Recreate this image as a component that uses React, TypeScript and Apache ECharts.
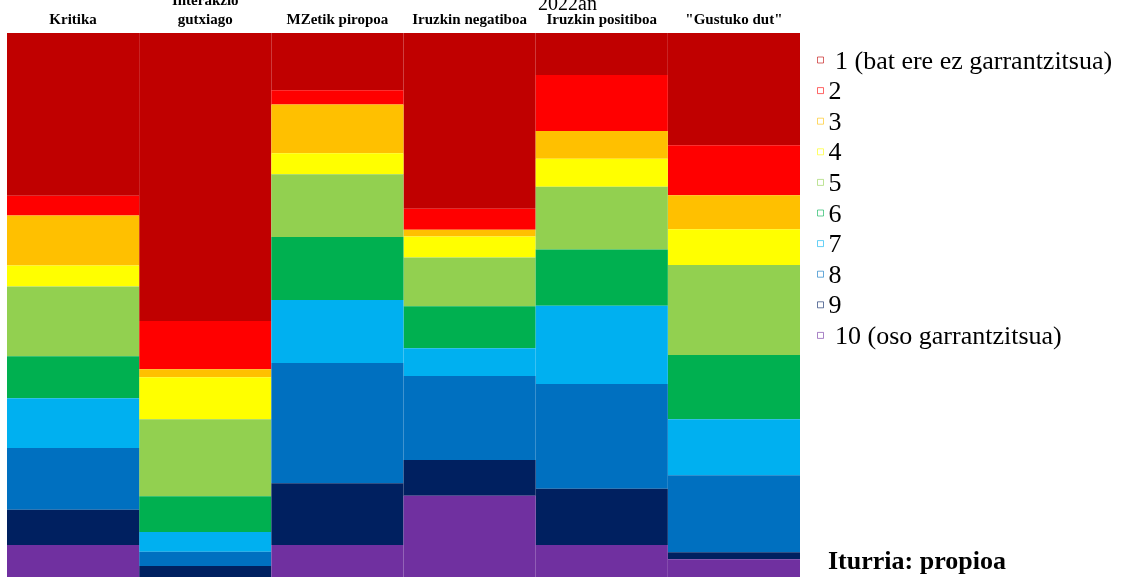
import React, { useEffect, useRef } from "react";
import * as echarts from "echarts";

const FONT = '"Liberation Serif", "Times New Roman", serif';

const categories = [
  "Kritika",
  "Interakzio\ngutxiago",
  "MZetik piropoa",
  "Iruzkin negatiboa",
  "Iruzkin positiboa",
  '"Gustuko dut"',
];

const levels = [
  "1 (bat ere ez garrantzitsua)",
  "2",
  "3",
  "4",
  "5",
  "6",
  "7",
  "8",
  "9",
  "10 (oso garrantzitsua)",
];

const levelColors = [
  "#C00000",
  "#FF0000",
  "#FFC000",
  "#FFFF00",
  "#92D050",
  "#00B050",
  "#00B0F0",
  "#0070C0",
  "#002060",
  "#7030A0",
];

// Share (%) of answers 1..10 per category
const kritika = [28.7, 3.5, 8.8, 3.7, 12.3, 7.4, 8.8, 10.9, 6.2, 9.7];
const interakzioGutxiago = [50.8, 8.5, 1.4, 7.4, 13.6, 6.3, 3.5, 2.5, 2.5, 3.5];
const mzetikPiropoa = [10.1, 2.5, 8.6, 3.7, 11.1, 11.1, 11.1, 21.2, 10.9, 9.7];
const iruzkinNegatiboa = [31.0, 3.7, 1.2, 3.7, 8.6, 7.4, 4.9, 14.8, 6.3, 18.4];
const iruzkinPositiboa = [7.4, 9.9, 4.9, 4.9, 11.1, 9.9, 13.8, 18.5, 9.9, 9.7];
const gustukoDut = [19.8, 8.8, 6.0, 6.3, 15.9, 11.3, 9.9, 13.6, 1.2, 7.2];

const titleText = "2022an";
const sourceText = "Iturria: propioa";

export default function App() {
  const ref = useRef<HTMLDivElement>(null);

  useEffect(() => {
    if (!ref.current) return;
    const chart = echarts.init(ref.current, null, { renderer: "svg" });
    const bars = [
      kritika,
      interakzioGutxiago,
      mzetikPiropoa,
      iruzkinNegatiboa,
      iruzkinPositiboa,
      gustukoDut,
    ];
    const series = levels.map((name, i) => ({
      name,
      type: "bar",
      stack: "total",
      barCategoryGap: "0%",
      data: bars.map((b) => b[i]),
      itemStyle: { color: levelColors[i] },
      emphasis: { disabled: true },
    }));

    chart.setOption({
      animation: false,
      title: {
        text: titleText,
        left: 538,
        top: -7,
        padding: 0,
        textStyle: {
          fontFamily: FONT,
          fontSize: 20,
          lineHeight: 20,
          fontWeight: "normal",
          color: "#000",
        },
      },
      grid: {
        left: 7,
        right: 324,
        top: 33,
        bottom: 10,
        containLabel: false,
        outerBoundsMode: "none",
      },
      xAxis: {
        type: "category",
        position: "top",
        data: categories,
        axisLine: { show: false },
        axisTick: { show: false },
        axisLabel: {
          interval: 0,
          margin: 5,
          fontFamily: FONT,
          fontWeight: "bold",
          fontSize: 15,
          lineHeight: 19,
          color: "#000",
        },
      },
      yAxis: { type: "value", min: 0, max: 100, inverse: true, show: false },
      legend: {
        orient: "vertical",
        left: 817,
        top: 47,
        padding: 0,
        itemWidth: 6,
        itemHeight: 6,
        itemGap: 4.6,
        icon: "rect",
        selectedMode: false,
        data: levels.map((name, i) => ({
          name,
          itemStyle: {
            color: "#ffffff",
            borderColor: levelColors[i],
            borderWidth: 1,
            opacity: 0.6,
          },
        })),
        formatter: (n: string) => (n.length > 2 ? " " + n : n),
        textStyle: {
          fontFamily: FONT,
          fontSize: 26,
          lineHeight: 26,
          color: "#000",
        },
      },
      graphic: [
        {
          type: "text",
          left: 828,
          top: 547,
          style: {
            text: sourceText,
            font: `bold 26px ${FONT}`,
            fill: "#000",
          },
        },
      ],
      series,
    });
    return () => chart.dispose();
  }, []);

  return (
    <div
      ref={ref}
      style={{ position: "fixed", left: 0, top: 0, width: 1124, height: 610 }}
    />
  );
}
